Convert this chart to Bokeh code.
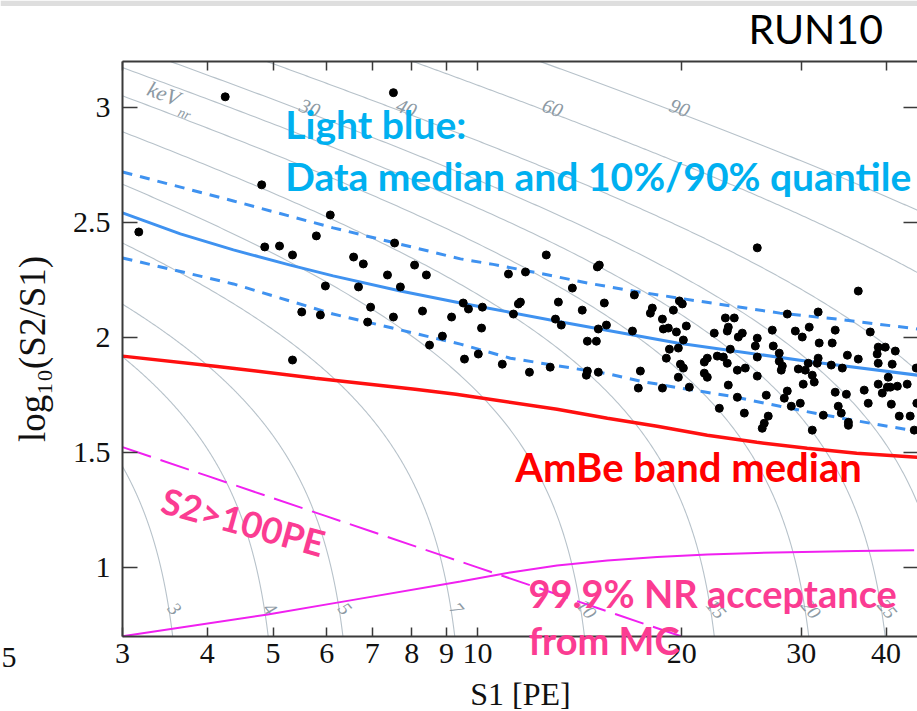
import numpy as np
from bokeh.plotting import figure
from bokeh.models import (ColumnDataSource, Label, LogAxis, LinearAxis, FixedTicker,
                          Range1d, CustomJSTickFormatter, BoxAnnotation)
from bokeh.embed import file_html
from bokeh.resources import INLINE
from bokeh.core.properties import value

# ---------------- data ----------------
x_lo, x_hi = 3.0, 44.5          # S1 axis extent
y_lo, y_hi = 0.7, 3.2           # log10(S2/S1) axis extent
x_ticks = [3, 4, 5, 6, 7, 8, 9, 10, 20, 30, 40]
y_ticks = [1, 1.5, 2, 2.5, 3]

# energy contours (keVnr): S1 intercept (S2 -> 0) and S2/S1 gain ratio
contour_energy = [3, 4, 5, 7, 10, 15, 20, 25, 30, 40, 60, 90]
contour_s1_intercept = [3.71, 5.13, 6.61, 9.66, 15.0, 23.3, 32.1, 41.6, 51.8, 71.9, 118.0, 181.6]
s2_s1_gain = 116.0
bottom_label_energy = [3, 4, 5, 7, 10, 15, 20, 25]
top_label_energy = [30, 40, 60, 90]

median_s1 = [3, 3.65, 4.37, 5.30, 6.13, 7.70, 9.44, 13.1, 19.7, 30.6, 44.5]
median_y = [2.542, 2.451, 2.381, 2.315, 2.268, 2.202, 2.150, 2.071, 1.976, 1.897, 1.836]

upper_s1 = [3, 4.37, 6.13, 9.44, 10.55, 12.51, 14.52, 16.97, 21.08, 27.9, 33.9, 44.5]
upper_y = [2.720, 2.594, 2.477, 2.342, 2.318, 2.276, 2.237, 2.202, 2.159, 2.106, 2.080, 2.037]

lower_s1 = [3, 4.37, 6.13, 9.44, 11.18, 13.25, 15.7, 17.38, 19.9, 23.58, 27.9, 31.98, 37.91, 44.5]
lower_y = [2.346, 2.233, 2.102, 1.971, 1.910, 1.875, 1.840, 1.810, 1.780, 1.745, 1.701, 1.666, 1.627, 1.592]

ambe_s1 = [3, 4.11, 5.77, 8.09, 9.3, 13.1, 15.54, 18.4, 21.81, 25.8, 30.61, 36.2, 44.5]
ambe_y = [1.919, 1.875, 1.823, 1.775, 1.753, 1.688, 1.649, 1.614, 1.575, 1.544, 1.518, 1.496, 1.479]

accept_s1 = [3, 4.91, 6.34, 9.44, 11.18, 13.1, 15.54, 18.4, 21.81, 25.8, 36.2, 44.0]
accept_y = [0.70, 0.795, 0.851, 0.939, 0.978, 1.008, 1.030, 1.045, 1.056, 1.063, 1.071, 1.074]

s2_threshold = 100.0
s2_cut_s1 = [3, 4, 5, 6, 7, 8, 9, 10, 12, 14, 16, 18, 19.95]

dots_s1 = [4.25, 7.52, 4.81, 6.07, 3.17, 5.79, 4.86, 5.11, 5.34, 6.57, 6.79, 7.55, 8.08, 8.41, 7.37,
           5.97, 6.68, 7.70, 6.96, 9.53, 9.70, 5.51, 5.87, 7.52, 8.30, 9.16, 6.89, 8.88, 8.50, 5.34,
           9.57, 12.63, 11.11, 11.77, 15.02, 15.12, 13.80, 17.03, 10.17, 11.49, 11.57, 11.30, 13.16,
           14.27, 15.38, 13.03, 13.29, 15.49, 15.07, 16.92, 10.14, 14.52, 14.97, 10.03, 10.88, 11.93,
           12.80, 14.52, 14.47, 15.07, 17.26, 17.38, 25.84, 19.84, 20.04, 19.44, 18.10, 17.98, 18.73,
           18.79, 19.11, 19.64, 20.31, 23.19, 23.90, 23.42, 23.34, 22.33, 24.56, 24.23, 27.19, 25.84,
           25.67, 20.11, 19.77, 19.18, 18.98, 21.81, 21.59, 22.56, 23.03, 23.34, 23.58, 25.84, 27.28,
           27.84, 19.91, 20.11, 21.59, 21.81, 24.15, 24.81, 25.84, 19.77, 18.73, 20.52, 23.42, 24.15,
           26.64, 22.72, 24.73, 26.82, 26.46, 26.28, 36.40, 28.61, 31.77, 29.40, 30.10, 30.82, 33.66,
           37.91, 31.88, 33.32, 27.84, 38.95, 39.89, 41.27, 38.81, 38.95, 40.84, 35.08, 36.40, 31.77,
           31.67, 30.72, 33.21, 34.48, 28.13, 28.03, 29.70, 30.41, 31.14, 31.35, 30.20, 44.31, 40.30,
           40.58, 40.17, 38.95, 41.56, 42.97, 39.49, 37.14, 33.66, 34.96, 28.61, 28.32, 29.00, 29.90,
           34.01, 34.36, 37.65, 40.72, 35.20, 35.20, 32.33, 31.14, 41.83, 43.41, 44.01, 44.40]
dots_y = [3.047, 3.065, 2.664, 2.533, 2.459, 2.442, 2.394, 2.398, 2.359, 2.350, 2.320, 2.411, 2.315, 2.272, 2.272,
          2.224, 2.220, 2.220, 2.132, 2.150, 2.124, 2.111, 2.098, 2.089, 2.115, 2.089, 2.067, 2.006, 1.967, 1.902,
          1.906, 2.359, 2.276, 2.285, 2.307, 2.315, 2.215, 2.185, 2.132, 2.146, 2.154, 2.102, 2.154,
          2.119, 2.150, 2.080, 2.054, 2.054, 2.037, 2.028, 2.041, 1.984, 1.984, 1.928, 1.884, 1.849,
          1.871, 1.854, 1.836, 1.849, 1.780, 1.854, 2.390, 2.159, 2.146, 2.119, 2.128, 2.106, 2.080,
          2.037, 2.041, 2.024, 2.050, 2.085, 2.085, 2.045, 2.028, 2.019, 2.019, 2.002, 2.032, 1.997,
          1.963, 1.989, 1.954, 1.949, 1.910, 1.910, 1.893, 1.919, 1.915, 1.888, 1.949, 1.915, 1.963,
          1.897, 1.884, 1.867, 1.845, 1.827, 1.858, 1.867, 1.832, 1.827, 1.780, 1.784, 1.793, 1.740,
          1.749, 1.692, 1.671, 1.658, 1.627, 1.605, 2.202, 2.102, 2.111, 2.028, 2.002, 2.045, 2.032,
          2.024, 1.976, 1.976, 1.932, 1.958, 1.958, 1.941, 1.928, 1.888, 1.884, 1.923, 1.906, 1.910,
          1.888, 1.888, 1.880, 1.867, 1.876, 1.858, 1.863, 1.858, 1.836, 1.806, 1.797, 1.867, 1.827,
          1.784, 1.784, 1.797, 1.788, 1.797, 1.758, 1.771, 1.762, 1.753, 1.767, 1.736, 1.701, 1.714,
          1.701, 1.671, 1.714, 1.710, 1.631, 1.618, 1.662, 1.597, 1.658, 1.658, 1.597, 1.714]

# ---------------- figure: frame covers the whole canvas, axes drawn at fixed locations ----------------
SERIF = "Liberation Serif"
W, H = 917, 711
p = figure(width=W, height=H, x_axis_type="log",
           x_range=Range1d(1.983, x_hi), y_range=Range1d(0.373, 3.466),
           x_axis_location=None, y_axis_location=None, title=None,
           output_backend="svg", toolbar_location=None,
           min_border=0, min_border_left=0, min_border_right=0, min_border_top=0, min_border_bottom=0)
p.outline_line_color = None
p.grid.visible = False
p.background_fill_color = "white"
p.border_fill_color = "white"

# light grey strip along the top edge of the slide crop
p.add_layout(BoxAnnotation(bottom=3.442, fill_color="#dedede", fill_alpha=1.0, line_color=None,
                           level="underlay"))

fmt = CustomJSTickFormatter(code="return String(tick);")
blank = CustomJSTickFormatter(code="return '';")
AX = "#3a3a3a"

def style(ax, tick_in):
    ax.major_label_text_font = SERIF
    ax.major_label_text_font_size = "30px"
    ax.major_label_text_color = "#111111"
    ax.axis_line_color = AX
    ax.axis_line_width = 2
    ax.major_tick_line_color = AX
    ax.major_tick_line_width = 1.5
    ax.major_tick_in = tick_in
    ax.major_tick_out = 0
    ax.minor_tick_line_color = None

bottom = LogAxis(ticker=FixedTicker(ticks=x_ticks, minor_ticks=[]), formatter=fmt,
                 fixed_location=y_lo, bounds=(x_lo, x_hi), major_label_standoff=8)
style(bottom, 9)
p.add_layout(bottom, "below")

left = LinearAxis(ticker=FixedTicker(ticks=y_ticks, minor_ticks=[]), formatter=fmt,
                  fixed_location=x_lo, bounds=(y_lo, y_hi), major_label_standoff=12)
style(left, 15)
p.add_layout(left, "left")

top = LogAxis(ticker=FixedTicker(ticks=x_ticks, minor_ticks=[]), formatter=blank,
              fixed_location=y_hi, bounds=(x_lo, x_hi), major_label_standoff=0)
style(top, 9)
p.add_layout(top, "above")

right = LinearAxis(ticker=FixedTicker(ticks=y_ticks, minor_ticks=[]), formatter=blank,
                   fixed_location=x_hi, bounds=(y_lo, y_hi), major_label_standoff=0)
style(right, 14)
right.axis_line_color = None
p.add_layout(right, "right")

# ---------------- energy contours (kept inside the axes box) ----------------
cx, cy = [], []
for q in contour_s1_intercept:
    ya = y_lo
    if q > x_hi:
        ya = max(ya, float(np.log10(s2_s1_gain * (q / x_hi - 1.0))))
    yb = min(y_hi, float(np.log10(s2_s1_gain * (q / x_lo - 1.0))))
    if yb <= ya:
        continue
    yy = np.linspace(ya, yb, 300)
    cx.append(list(q / (1.0 + 10 ** yy / s2_s1_gain)))
    cy.append(list(yy))
p.multi_line(cx, cy, line_color="#b7c2ca", line_width=1.1)

def contour_s1(e, y):
    q = contour_s1_intercept[contour_energy.index(e)]
    return q / (1.0 + 10 ** y / s2_s1_gain)

yb_lab = 0.82
bsrc = ColumnDataSource(dict(x=[contour_s1(e, yb_lab) for e in bottom_label_energy],
                             y=[yb_lab] * len(bottom_label_energy),
                             t=[str(e) for e in bottom_label_energy]))
p.text("x", "y", text="t", source=bsrc, angle=-0.87, x_offset=6, text_align="center",
       text_baseline="middle", text_font=value(SERIF), text_font_style="italic",
       text_font_size="19px", text_color="#8c99a3")
yt_lab = 3.0
tsrc = ColumnDataSource(dict(x=[contour_s1(e, yt_lab) for e in top_label_energy],
                             y=[yt_lab] * len(top_label_energy),
                             t=[str(e) for e in top_label_energy]))
p.text("x", "y", text="t", source=tsrc, angle=-0.36, x_offset=15, text_align="center",
       text_baseline="middle", text_font=value(SERIF), text_font_style="italic",
       text_font_size="20px", text_color="#8c99a3")
p.add_layout(Label(x=3.45, y=3.061, text="keV", angle=-0.36, text_align="center",
                   text_baseline="middle", text_font=SERIF, text_font_style="italic",
                   text_font_size="22px", text_color="#8c99a3"))
p.add_layout(Label(x=3.70, y=2.973, text="nr", angle=-0.36, text_align="center",
                   text_baseline="middle", text_font=SERIF, text_font_style="italic",
                   text_font_size="14px", text_color="#8c99a3"))

# ---------------- curves ----------------
blue = "#3f92f0"
p.line(upper_s1, upper_y, line_color=blue, line_width=3, line_dash="10 8")
p.line(lower_s1, lower_y, line_color=blue, line_width=3, line_dash="10 8")
p.line(median_s1, median_y, line_color=blue, line_width=3)
p.line(ambe_s1, ambe_y, line_color="#ff1010", line_width=3.5)
p.line(accept_s1, accept_y, line_color="#f020f0", line_width=2)
p.line(s2_cut_s1, [float(np.log10(s2_threshold / s)) for s in s2_cut_s1],
       line_color="#f020f0", line_width=2, line_dash="30 10")

p.scatter(dots_s1, dots_y, size=8, color="black")

# ---------------- texts ----------------
lb = "#00b0f0"
pink = "#fb3c92"
def note(x, y, t, color, size="39px", angle=0.0, align="left"):
    p.add_layout(Label(x=x, y=y, text=t, angle=angle, text_font="Lato", text_font_style="bold",
                       text_font_size=size, text_color=color, text_align=align,
                       text_baseline="middle"))

note(5.21, 2.928, "Light blue:", lb)
note(5.21, 2.703, "Data median and 10%/90% quantile", lb)
note(11.37, 1.4375, "AmBe band median", "#ff0000", size="40px")
note(4.52, 1.20, "S2>100PE", pink, size="36px", angle=-0.27, align="center")
note(11.89, 0.888, "99.9% NR acceptance", pink, size="38px")
note(11.89, 0.684, "from MC", pink, size="38px")

p.add_layout(Label(x=31.5, y=3.344, text="RUN10", text_font="Lato", text_font_size="41px",
                   text_color="black", text_align="center", text_baseline="middle"))
p.add_layout(Label(x=11.57, y=0.4505, text="S1 [PE]", text_font=SERIF, text_font_size="32px",
                   text_color="#111111", text_align="center", text_baseline="middle"))
p.add_layout(Label(x=2.21, y=1.95, text="log\u2081\u2080(S2/S1)", angle=np.pi / 2, text_font=SERIF,
                   text_font_size="37px", text_color="#111111", text_align="center",
                   text_baseline="middle"))
# fragment of a neighbouring panel's tick label at the far left edge
p.add_layout(Label(x=1.983, y=0.607, text="5", x_offset=1, text_font=SERIF, text_font_size="30px",
                   text_color="#111111", text_align="left", text_baseline="middle"))

open("out.html", "w").write(file_html(p, INLINE))
